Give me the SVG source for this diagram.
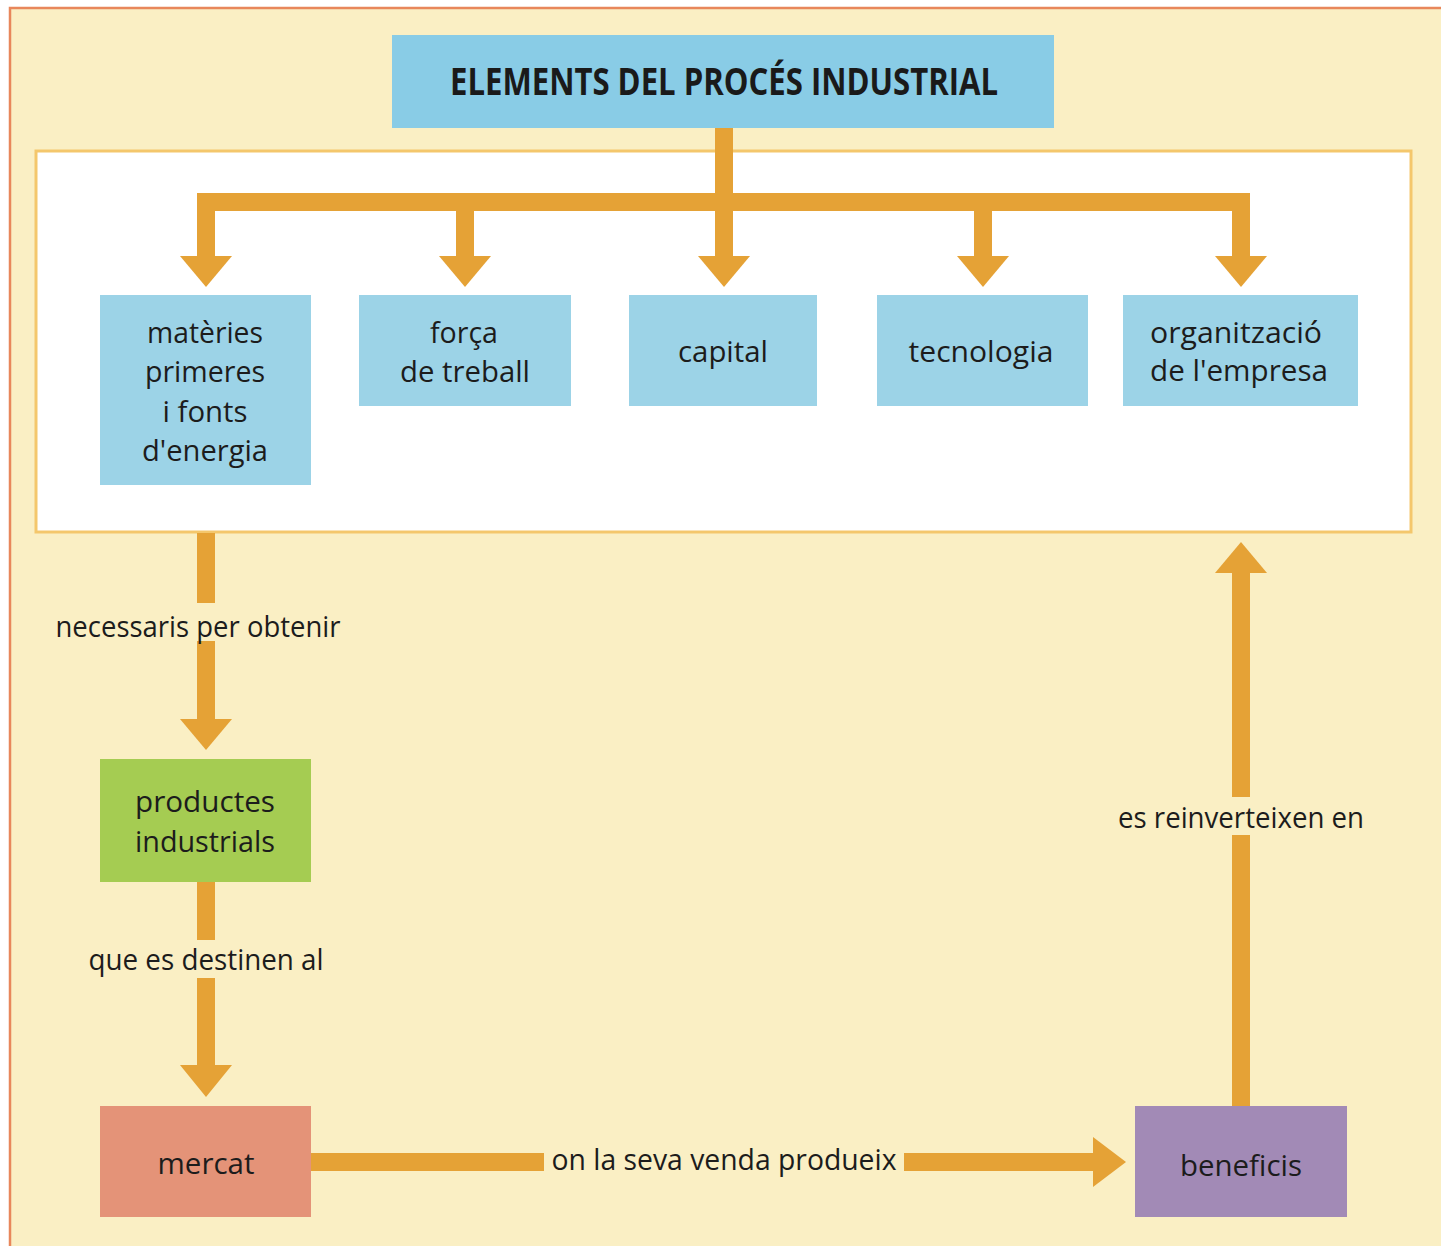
<svg xmlns="http://www.w3.org/2000/svg" width="1441" height="1246" viewBox="0 0 1441 1246">
  <defs>
    <style>
      .ln { fill: none; stroke: #e5a236; stroke-width: 18; stroke-linecap: butt; stroke-linejoin: miter; }
      .ah { fill: #e5a236; }
      .t { font-family: "Open Sans", "Liberation Sans", sans-serif; font-size: 30px; fill: #1c1c1c; text-anchor: middle; }
      .title { font-family: "Open Sans", "Liberation Sans", sans-serif; font-weight: bold; font-size: 37px; fill: #1a1a1a; text-anchor: middle; }
      .blue { fill: #9cd3e7; }
    </style>
  </defs>
  <rect x="0" y="0" width="1441" height="1246" fill="#ffffff"/>
  <rect x="10" y="8" width="1450" height="1260" fill="#faefc4" stroke="#e8875b" stroke-width="2.5"/>
  <rect x="36" y="151" width="1375" height="381" fill="#ffffff" stroke="#f4c76c" stroke-width="3"/>

  <g id="connectors">
    <path class="ln" d="M724 128 V257"/>
    <path class="ln" d="M206 257 V202 H1241 V257"/>
    <path class="ln" d="M465 202 V257"/>
    <path class="ln" d="M983 202 V257"/>
    <polygon class="ah" points="180,256 232,256 206,287"/>
    <polygon class="ah" points="439,256 491,256 465,287"/>
    <polygon class="ah" points="698,256 750,256 724,287"/>
    <polygon class="ah" points="957,256 1009,256 983,287"/>
    <polygon class="ah" points="1215,256 1267,256 1241,287"/>

    <path class="ln" d="M206 533 V603"/>
    <path class="ln" d="M206 641 V720"/>
    <polygon class="ah" points="180,719 232,719 206,750"/>
    <text class="t" x="198" y="637" textLength="285" lengthAdjust="spacingAndGlyphs">necessaris per obtenir</text>

    <path class="ln" d="M206 882 V940"/>
    <path class="ln" d="M206 978 V1066"/>
    <polygon class="ah" points="180,1065 232,1065 206,1097"/>
    <text class="t" x="206" y="970" textLength="235" lengthAdjust="spacingAndGlyphs">que es destinen al</text>

    <path class="ln" d="M311 1162 H544"/>
    <path class="ln" d="M904 1162 H1094"/>
    <polygon class="ah" points="1093,1137 1093,1187 1126,1162"/>
    <text class="t" x="724" y="1170" textLength="345" lengthAdjust="spacingAndGlyphs">on la seva venda produeix</text>

    <path class="ln" d="M1241 1106 V835"/>
    <path class="ln" d="M1241 797 V572"/>
    <polygon class="ah" points="1215,573 1267,573 1241,542"/>
    <text class="t" x="1241" y="828" textLength="246" lengthAdjust="spacingAndGlyphs">es reinverteixen en</text>
  </g>

  <g id="title">
    <rect x="392" y="35" width="662" height="93" fill="#89cce6"/>
    <text class="title" x="724" y="95" textLength="548" lengthAdjust="spacingAndGlyphs">ELEMENTS DEL PROCÉS INDUSTRIAL</text>
  </g>

  <g id="materies">
    <rect class="blue" x="100" y="295" width="211" height="190"/>
    <text class="t" x="205" y="343" textLength="116" lengthAdjust="spacingAndGlyphs">matèries</text>
    <text class="t" x="205" y="382" textLength="120" lengthAdjust="spacingAndGlyphs">primeres</text>
    <text class="t" x="205" y="422" textLength="85" lengthAdjust="spacingAndGlyphs">i fonts</text>
    <text class="t" x="205" y="461" textLength="126" lengthAdjust="spacingAndGlyphs">d'energia</text>
  </g>

  <g id="forca">
    <rect class="blue" x="359" y="295" width="212" height="111"/>
    <text class="t" x="464" y="343" textLength="68" lengthAdjust="spacingAndGlyphs">força</text>
    <text class="t" x="465" y="382" textLength="130" lengthAdjust="spacingAndGlyphs">de treball</text>
  </g>

  <g id="capital">
    <rect class="blue" x="629" y="295" width="188" height="111"/>
    <text class="t" x="723" y="362" textLength="90" lengthAdjust="spacingAndGlyphs">capital</text>
  </g>

  <g id="tecnologia">
    <rect class="blue" x="877" y="295" width="211" height="111"/>
    <text class="t" x="981" y="362" textLength="145" lengthAdjust="spacingAndGlyphs">tecnologia</text>
  </g>

  <g id="organitzacio">
    <rect class="blue" x="1123" y="295" width="235" height="111"/>
    <text class="t" x="1236" y="343" textLength="172" lengthAdjust="spacingAndGlyphs">organització</text>
    <text class="t" x="1239" y="381" textLength="178" lengthAdjust="spacingAndGlyphs">de l'empresa</text>
  </g>

  <g id="productes">
    <rect x="100" y="759" width="211" height="123" fill="#a5cc52"/>
    <text class="t" x="205" y="812" textLength="140" lengthAdjust="spacingAndGlyphs">productes</text>
    <text class="t" x="205" y="852" textLength="140" lengthAdjust="spacingAndGlyphs">industrials</text>
  </g>

  <g id="mercat">
    <rect x="100" y="1106" width="211" height="111" fill="#e49378"/>
    <text class="t" x="206" y="1174" textLength="97" lengthAdjust="spacingAndGlyphs">mercat</text>
  </g>

  <g id="beneficis">
    <rect x="1135" y="1106" width="212" height="111" fill="#a28ab6"/>
    <text class="t" x="1241" y="1176" textLength="122" lengthAdjust="spacingAndGlyphs">beneficis</text>
  </g>
</svg>
